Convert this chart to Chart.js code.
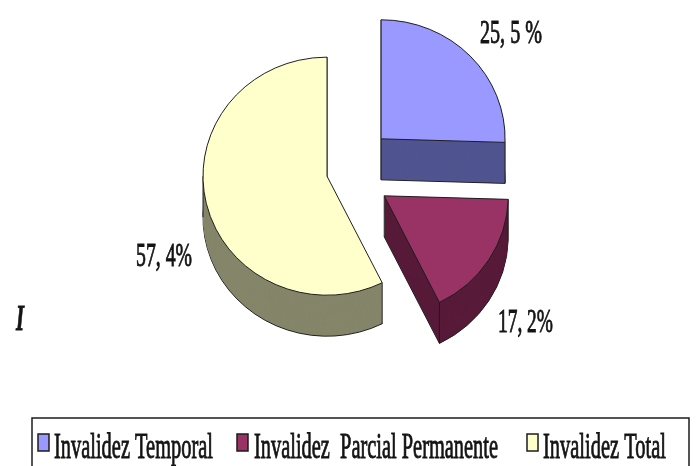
<!DOCTYPE html>
<html>
<head>
<meta charset="utf-8">
<script src="https://cdn.jsdelivr.net/npm/chart.js@4"></script>
<style>
    html, body { margin: 0; background: #fff; }
    canvas { display: block; filter: blur(0.5px); }
</style>
</head>
<body>
<canvas id="chart" width="696" height="466"></canvas>
<script>
const categories = ["Invalidez Temporal", "Invalidez  Parcial Permanente", "Invalidez Total"];
const values = [25.5, 17.2, 57.4];
const valueTexts = ["25, 5 %", "17, 2%", "57, 4%"];
const topColors = ["#9999ff", "#993366", "#ffffcc"];
const sideColors = ["#50548f", "#571a38", "#85856a"];
// how far each slice is pulled out, in pixels
const pullOuts = [49.6, 46, 19];

const RADIUS = 124;
const SQUASH = 0.96;
const DEPTH = 41;
const FONT = '"Liberation Serif", serif';

// x, baseline, size, width of each value text
const valueSpots = [
    [480, 43, 33, 62],
    [498, 332, 33, 55],
    [136, 266, 33, 56]
];
// marker x, text x, text width of each legend entry
const legendSpots = [
    [38, 54, 159],
    [237, 254, 244],
    [527, 543, 123]
];

function stretchedText(ctx, text, x, y, size, width, style) {
    ctx.save();
    ctx.font = (style || "") + " " + size + "px " + FONT;
    ctx.fillStyle = "#141414";
    ctx.strokeStyle = "#141414";
    ctx.lineWidth = 0.9;
    ctx.textBaseline = "alphabetic";
    ctx.textAlign = "left";
    const natural = ctx.measureText(text).width;
    ctx.translate(x, y);
    ctx.scale(width / natural, 1);
    ctx.fillText(text, 0, 0);
    ctx.strokeText(text, 0, 0);
    ctx.restore();
}

function wedge(ctx, angles, cx, cy) {
    ctx.beginPath();
    ctx.moveTo(cx, cy);
    ctx.arc(cx, cy, RADIUS, angles.start, angles.end);
    ctx.closePath();
}

const wallAngles = [];

const pie3d = {
    id: "pie3d",
    afterDatasetsUpdate(chart) {
        // ArcElement widens and narrows an offset slice, take that back out
        chart.getDatasetMeta(0).data.forEach((arc, i) => {
            wallAngles[i] = { start: arc.startAngle, end: arc.endAngle };
            const fix = 1 - Math.sin(Math.min(Math.PI, arc.circumference));
            const extra = pullOuts[i] * fix;
            const widen = extra / (2 * Math.PI * RADIUS);
            arc.outerRadius = RADIUS - extra;
            arc.startAngle -= widen;
            arc.endAngle += widen;
        });
    },
    beforeDatasetsDraw(chart) {
        const ctx = chart.ctx;
        const first = chart.getDatasetMeta(0).data[0];
        ctx.save();
        ctx.translate(first.x, first.y);
        ctx.scale(1, SQUASH);
        ctx.translate(-first.x, -first.y);

        const d = DEPTH / SQUASH;
        chart.getDatasetMeta(0).data.forEach((arc, i) => {
            const angles = wallAngles[i];
            const mid = (angles.start + angles.end) / 2;
            const cx = arc.x + Math.cos(mid) * pullOuts[i];
            const cy = arc.y + Math.sin(mid) * pullOuts[i];

            ctx.strokeStyle = "#1c1c1c";
            ctx.lineWidth = 1;
            ctx.fillStyle = sideColors[i];
            wedge(ctx, angles, cx, cy + d);
            ctx.fill();
            ctx.stroke();
            for (let s = d - 1; s >= 0; s--) {
                wedge(ctx, angles, cx, cy + s);
                ctx.fill();
            }

            // upright edges of the wall
            const edges = [angles.start, angles.end];
            if (angles.start < Math.PI && angles.end > Math.PI) {
                edges.push(Math.PI);
            }
            ctx.beginPath();
            edges.forEach((a) => {
                const ex = cx + Math.cos(a) * RADIUS;
                const ey = cy + Math.sin(a) * RADIUS;
                ctx.moveTo(ex, ey);
                ctx.lineTo(ex, ey + d);
            });
            ctx.moveTo(cx, cy);
            ctx.lineTo(cx, cy + d);
            ctx.stroke();
        });
    },
    afterDatasetsDraw(chart) {
        chart.ctx.restore();
    },
    afterDraw(chart) {
        const ctx = chart.ctx;

        valueTexts.forEach((text, i) => {
            const s = valueSpots[i];
            stretchedText(ctx, text, s[0], s[1], s[2], s[3]);
        });
        stretchedText(ctx, "I", 16, 330, 36, 8, "italic bold");

        // legend frame, open at the bottom edge of the picture
        ctx.save();
        ctx.strokeStyle = "#1c1c1c";
        ctx.lineWidth = 1.5;
        ctx.beginPath();
        ctx.moveTo(32, 466);
        ctx.lineTo(32, 418);
        ctx.lineTo(689, 418);
        ctx.lineTo(689, 466);
        ctx.stroke();
        ctx.restore();

        categories.forEach((name, i) => {
            const s = legendSpots[i];
            ctx.fillStyle = topColors[i];
            ctx.strokeStyle = "#1c1c1c";
            ctx.lineWidth = 1.5;
            ctx.fillRect(s[0], 434, 11, 17);
            ctx.strokeRect(s[0], 434, 11, 17);
            stretchedText(ctx, name, s[1], 458, 35, s[2]);
        });
    }
};

new Chart(document.getElementById("chart"), {
    type: "pie",
    data: {
        labels: categories,
        datasets: [{
            data: values,
            backgroundColor: topColors,
            borderColor: "#1c1c1c",
            borderWidth: 1,
            // the element moves a slice by a quarter of this option
            offset: pullOuts.map((p) => p * 4),
            radius: RADIUS
        }]
    },
    options: {
        responsive: false,
        animation: false,
        layout: { padding: { left: 0, right: 5, top: 0, bottom: 122 } },
        plugins: {
            legend: { display: false },
            tooltip: { enabled: false }
        }
    },
    plugins: [pie3d]
});
</script>
</body>
</html>
